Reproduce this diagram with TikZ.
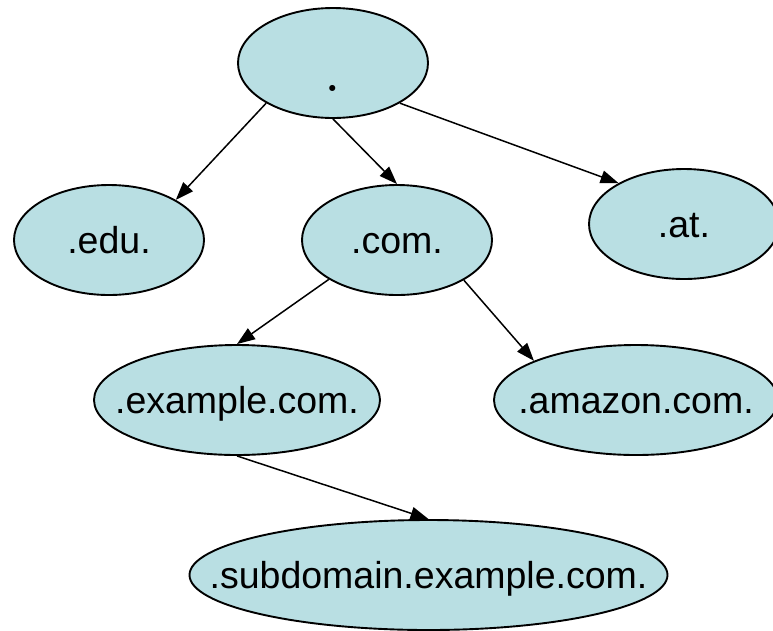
\documentclass[tikz,border=0pt]{standalone}
\usepackage{fontspec}
\newfontfamily\arialfont{Liberation Sans}
\usetikzlibrary{arrows.meta,shapes.geometric}
\definecolor{nodefill}{RGB}{185,223,227}
\begin{document}
\begin{tikzpicture}[x=1pt,y=-1pt,
  dns/.style={ellipse, draw=black, line width=1.9pt, fill=nodefill, inner sep=0pt,
    minimum width=#1, minimum height=110pt},
  lbl/.style={font=\arialfont\fontsize{37.5}{45}\selectfont, text height=34pt, text depth=8pt, inner sep=0pt},
  edge/.style={line width=1.5pt, -{Triangle[length=18pt,width=13pt]}}]
\useasboundingbox (0,0) rectangle (773,630);
\clip (0,0) rectangle (773,630);
\node[dns=190pt, label={[font=\fontsize{74}{90}\selectfont, text height=56pt, text depth=0pt, inner sep=0pt]center:.}] (root) at (333,63) {};
\node[dns=190pt, label={[lbl]center:.edu.}] (edu) at (109,240) {};
\node[dns=190pt, label={[lbl]center:.com.}] (com) at (397,240) {};
\node[dns=190pt, label={[lbl]center:.at.}] (at) at (684,224) {};
\node[dns=286pt, label={[lbl]center:.example.com.}] (example) at (237,400) {};
\node[dns=284pt, label={[lbl]center:.amazon.com.}] (amazon) at (636,400) {};
\node[dns=478pt, label={[lbl]center:.subdomain.example.com.}] (sub) at (428.5,575) {};
\draw[edge] (root.211) -- (edu.31);
\draw[edge] (root.south) -- (com.north);
\draw[edge] (root.329) -- (at.148);
\draw[edge] (com.210) -- (example.north);
\draw[edge] (com.329) -- (amazon.159);
\draw[edge] (example.south) -- (sub.north);
\end{tikzpicture}
\end{document}
